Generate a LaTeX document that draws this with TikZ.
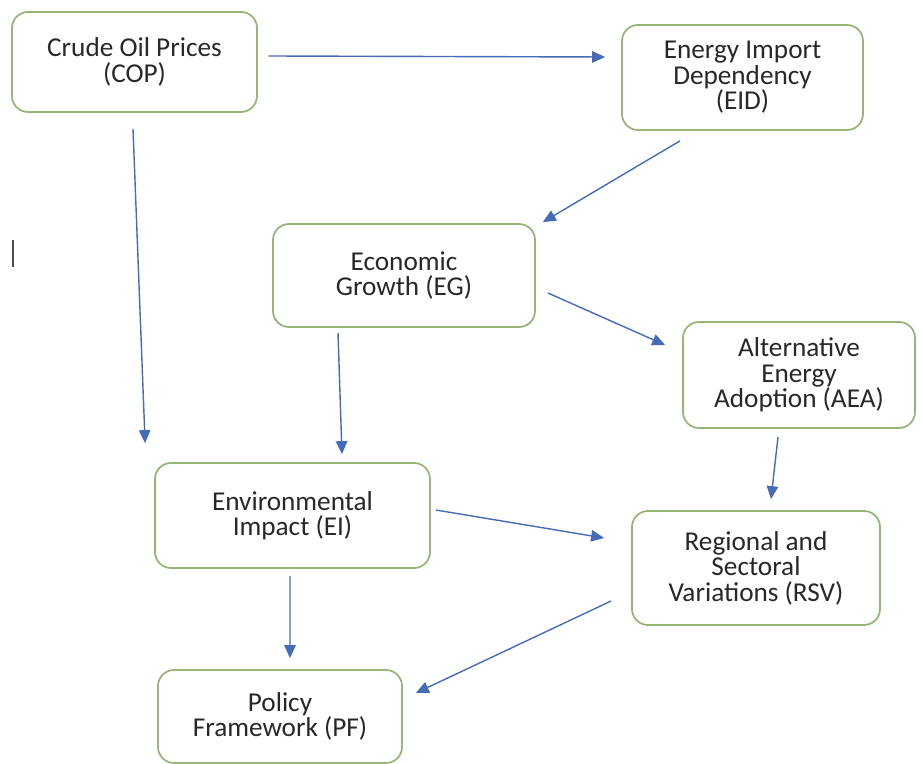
\documentclass[tikz,border=0pt]{standalone}
\usepackage{fontspec}
\setmainfont{Carlito}
\usepackage{xcolor}
\usetikzlibrary{arrows.meta,calc}
\definecolor{boxgreen}{RGB}{150,182,118}
\definecolor{arrblue}{RGB}{70,108,185}
\definecolor{txtgray}{RGB}{40,40,40}

\begin{document}
\begin{tikzpicture}[font=\fontsize{15.5}{14.5}\selectfont,
blk/.style={draw=boxgreen, line width=1pt, fill=white, rounded corners=3.2mm, align=center, text=txtgray, inner sep=0pt},
arrow/.style={-{Triangle[length=2.6mm,width=2.3mm]}, arrblue, line width=0.8pt}]
\useasboundingbox (0,0) rectangle (18.44,-15.28);
\node[blk, minimum width=4.9cm, minimum height=2cm] (cop) at (2.69,-1.24) {Crude Oil Prices\\(COP)};
\node[blk, minimum width=4.82cm, minimum height=2.1cm] (eid) at (14.85,-1.55) {Energy Import\\Dependency\\(EID)};
\node[blk, minimum width=5.24cm, minimum height=2.06cm] (eg) at (8.08,-5.51) {Economic\\Growth (EG)};
\node[blk, minimum width=4.64cm, minimum height=2.12cm] (aea) at (15.98,-7.5) {Alternative\\Energy\\Adoption (AEA)};
\node[blk, minimum width=5.5cm, minimum height=2.1cm] (ei) at (5.85,-10.31) {Environmental\\Impact (EI)};
\node[blk, minimum width=4.96cm, minimum height=2.28cm] (rsv) at (15.12,-11.36) {Regional and\\Sectoral\\Variations (RSV)};
\node[blk, minimum width=4.88cm, minimum height=1.86cm] (pf) at (5.6,-14.33) {Policy\\Framework (PF)};
\draw[arrow] ($(cop.east)+(0.21,0.12)$) -- ($(eid.west)+(-0.32,0.41)$);
\draw[arrow] ($(eid.south)+(-1.25,-0.2)$) -- ($(eg.north east)+(0.14,0.02)$);
\draw[arrow] ($(cop.south)+(-0.03,-0.32)$) -- ($(ei.north west)+(-0.18,0.38)$);
\draw[arrow] ($(eg.south)+(-1.32,-0.1)$) -- ($(ei.north)+(0.99,0.16)$);
\draw[arrow] ($(eg.east)+(0.24,-0.35)$) -- ($(aea.west)+(-0.34,0.6)$);
\draw[arrow] ($(aea.south)+(-0.42,-0.16)$) -- ($(rsv.north)+(0.3,0.22)$);
\draw[arrow] ($(ei.east)+(0.1,0.11)$) -- ($(rsv.west)+(-0.54,0.6)$);
\draw[arrow] ($(ei.south)+(-0.05,-0.14)$) -- ($(pf.north)+(0.2,0.22)$);
\draw[arrow] ($(rsv.west)+(-0.4,-0.66)$) -- ($(pf.east)+(0.26,0.47)$);
% stray cursor mark
\draw[black!70, line width=1.2pt] (0.26,-4.8) -- (0.26,-5.34);
\end{tikzpicture}
\end{document}
